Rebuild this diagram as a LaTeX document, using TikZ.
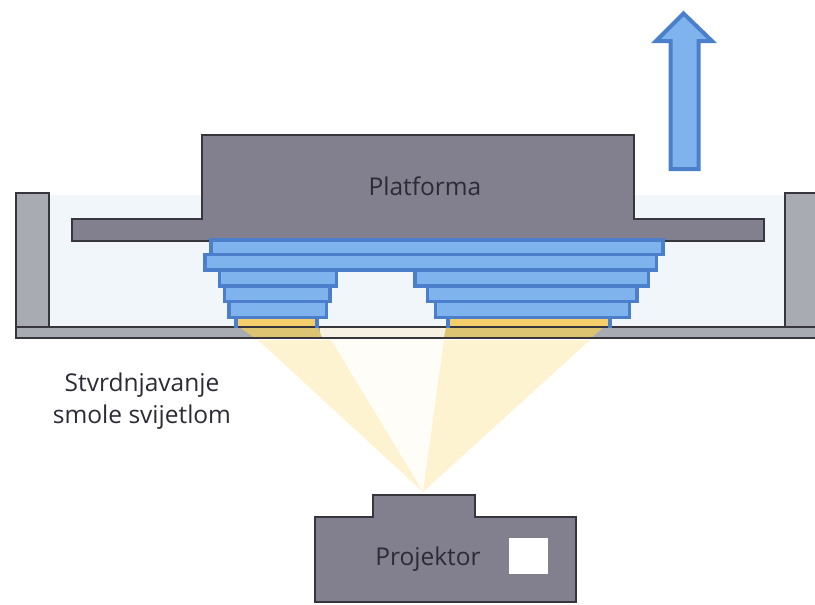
\documentclass[tikz,border=0pt]{standalone}
\usepackage{fontspec}
\setmainfont{Open Sans}
\definecolor{water}{HTML}{F1F6FA}
\definecolor{wall}{HTML}{A9ABB3}
\definecolor{plat}{HTML}{82808F}
\definecolor{edge}{HTML}{36363C}
\definecolor{layerfill}{HTML}{7FB3EE}
\definecolor{layeredge}{HTML}{4C7FCB}
\definecolor{beam}{HTML}{FDF3D0}
\definecolor{palebeam}{HTML}{FFFDF7}
\definecolor{cure}{HTML}{F6CD6B}
\definecolor{curefloor}{HTML}{DCC472}
\definecolor{floorlight}{HTML}{F6F1E2}
\definecolor{ink}{HTML}{2B2B35}
\tikzset{
  wallshape/.style={fill=wall,draw=edge,line width=1.2pt},
  platshape/.style={fill=plat,draw=edge,line width=1.2pt},
  layer/.style={fill=layerfill,draw=layeredge,line width=3.6pt,line join=miter},
  curestrip/.style={fill=cure,draw=none},
  label/.style={font=\fontsize{24.5}{32}\selectfont,text=ink,inner sep=0pt,align=center}
}
\begin{document}
\begin{tikzpicture}[x=1pt,y=-1pt]
\useasboundingbox (0,0) rectangle (815,605);
% water
\fill[water] (49,195) rectangle (785,328);
% tank
\path[wallshape] (815,193) -- (785,193) -- (785,327) -- (49,327) -- (49,193) -- (16,193) -- (16,338) -- (815,338);
% beams
\coordinate (focus) at (423,492);
\fill[palebeam] (318,338) -- (446,338) -- (focus) -- cycle;
\fill[beam] (258,340) -- (331,340) -- (focus) -- cycle;
\fill[beam] (444,340) -- (590,340) -- (focus) -- cycle;
% floor under the light
\fill[floorlight] (320,328) rectangle (446,337.4);
\fill[curefloor] (240,327.6) -- (318,327.6) -- (322,337.4) -- (254,337.4) -- cycle;
\fill[curefloor] (446,327.6) -- (603,327.6) -- (592,337.4) -- (444,337.4) -- cycle;
\draw[edge,line width=1.2pt] (16,327) -- (815,327) (16,338) -- (815,338);
% platform
\path[platshape] (72,219) -- (202,219) -- (202,135) -- (634,135) -- (634,219) -- (764,219) -- (764,241) -- (72,241) -- cycle;
\node[label] (platforma) at (425,186) {Platforma};
% layers
\path[layer] (211,240) rectangle (663,254.5);
\path[layer] (205,254.5) rectangle (656.5,270);
\path[layer] (219.5,270) rectangle (336.5,286);
\path[layer] (224.5,286) rectangle (330,301.5);
\path[layer] (229,301.5) rectangle (326.5,317.5);
\path[layer] (415,270) rectangle (648.5,286);
\path[layer] (427.5,286) rectangle (637,301.5);
\path[layer] (435.5,301.5) rectangle (629.5,317.5);
% cured strips
\fill[curestrip] (234,319) rectangle (318,326.4);
\fill[curestrip] (446,319) rectangle (612,326.4);
\fill[layeredge] (233.5,318) rectangle (237.5,328);
\fill[layeredge] (314.5,318) rectangle (318.5,328);
\fill[layeredge] (446,318) rectangle (450,328);
\fill[layeredge] (608,318) rectangle (612,328);
% arrow
\path[layer,line width=4pt] (670.5,169) -- (670.5,41) -- (656,41) -- (683.5,13.5) -- (712,41) -- (698.5,41) -- (698.5,169) -- cycle;
% text
\node[label] (stvrd) at (142,401) {Stvrdnjavanje\\smole svijetlom};
% projector
\path[platshape] (315,602) -- (315,517) -- (373,517) -- (373,495) -- (475,495) -- (475,517) -- (576,517) -- (576,602) -- cycle;
\node[fill=white,minimum width=39pt,minimum height=36pt,inner sep=0pt] (lens) at (528.5,556) {};
\node[label] (proj) at (428,559) {Projektor};
\end{tikzpicture}
\end{document}
